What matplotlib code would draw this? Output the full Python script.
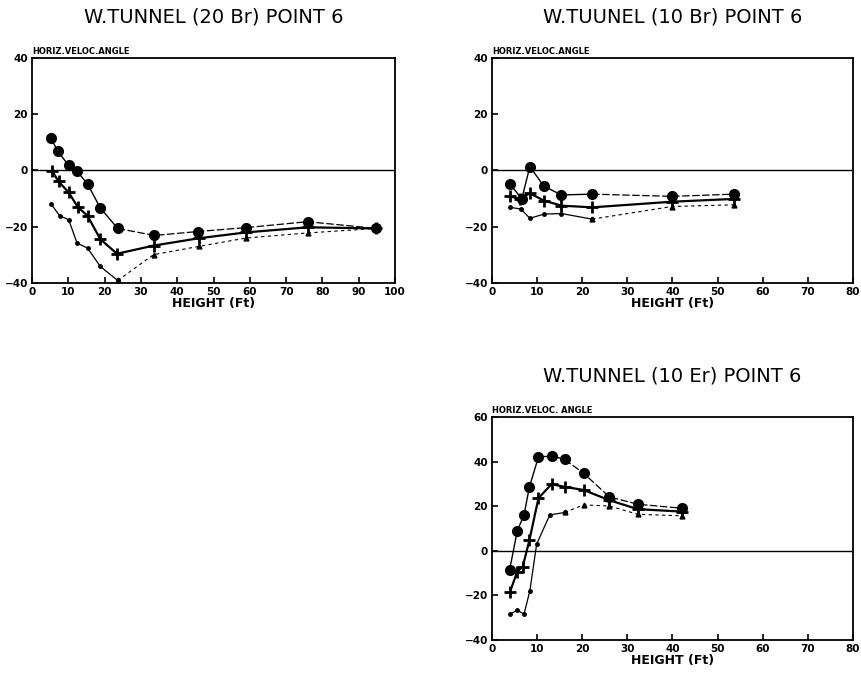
import numpy as np
import matplotlib
matplotlib.use("Agg")
import matplotlib.pyplot as plt

# W.TUNNEL (20 Br) POINT 6
h1_circ = [5.2, 7.1, 10.1, 12.4, 15.3, 18.8, 23.6, 33.7, 45.6, 59.0, 75.9, 94.8]
a1_circ = [11.6, 6.8, 1.8, -0.3, -4.8, -13.3, -20.6, -23.1, -21.7, -20.3, -18.2, -20.6]
h1_plus = [5.5, 7.3, 10.1, 12.6, 15.3, 18.8, 23.4, 33.5, 45.9, 59.0, 75.9, 94.8]
a1_plus = [-0.1, -3.9, -7.8, -13.0, -16.1, -24.4, -29.6, -26.7, -24.1, -22.0, -20.2, -20.6]
h1_dot = [5.2, 7.6, 10.1, 12.4, 15.3, 18.8, 23.6, 33.5, 45.9, 59.0, 75.9, 94.8]
a1_dot = [-11.8, -16.1, -17.5, -25.8, -27.6, -34.1, -39.1, -29.9, -27.0, -24.0, -22.2, -20.6]

# W.TUUNEL (10 Br) POINT 6
h2_circ = [4.0, 6.6, 8.4, 11.5, 15.4, 22.2, 39.9, 53.7]
a2_circ = [-4.8, -10.1, 1.4, -5.6, -8.7, -8.4, -9.2, -8.4]
h2_plus = [4.0, 6.2, 8.4, 11.5, 15.4, 22.2, 39.9, 53.7]
a2_plus = [-9.2, -10.1, -8.1, -10.7, -12.5, -13.1, -11.1, -10.1]
h2_dot = [4.0, 6.4, 8.4, 11.5, 15.4, 22.2, 39.9, 53.7]
a2_dot = [-13.1, -13.7, -17.0, -15.5, -15.3, -17.3, -12.8, -12.2]

# W.TUNNEL (10 Er) POINT 6
h3_circ = [3.9, 5.6, 7.1, 8.3, 10.3, 13.4, 16.1, 20.3, 26.0, 32.3, 42.0]
a3_circ = [-8.7, 9.0, 16.1, 28.7, 42.1, 42.5, 41.0, 34.8, 24.2, 20.9, 19.1]
h3_plus = [4.0, 5.6, 6.8, 8.3, 10.3, 13.2, 16.1, 20.3, 26.0, 32.3, 42.0]
a3_plus = [-18.4, -9.3, -7.2, 4.8, 23.6, 29.9, 28.7, 27.3, 22.7, 18.7, 17.6]
h3_dot = [4.0, 5.6, 7.1, 8.4, 9.9, 12.8, 16.1, 20.3, 26.0, 32.3, 42.0]
a3_dot = [-28.4, -26.6, -28.4, -17.9, 3.0, 16.1, 17.2, 20.6, 20.1, 16.4, 15.7]

panels = [
    ("W.TUNNEL (20 Br) POINT 6", "HORIZ.VELOC.ANGLE", 100, (-40, 40),
     h1_circ, a1_circ, h1_plus, a1_plus, h1_dot, a1_dot, 7),
    ("W.TUUNEL (10 Br) POINT 6", "HORIZ.VELOC.ANGLE", 80, (-40, 40),
     h2_circ, a2_circ, h2_plus, a2_plus, h2_dot, a2_dot, 6),
    ("W.TUNNEL (10 Er) POINT 6", "HORIZ.VELOC. ANGLE", 80, (-40, 60),
     h3_circ, a3_circ, h3_plus, a3_plus, h3_dot, a3_dot, 7),
]
rects = [
    [0.0372, 0.5832, 0.4216, 0.3314],
    [0.5714, 0.5832, 0.4193, 0.3314],
    [0.5714, 0.0574, 0.4193, 0.3284],
]

fig = plt.figure(figsize=(8.61, 6.79), dpi=100)

for rect, p in zip(rects, panels):
    title, ylab, xmax, ylim, hc, ac, hp, ap, hd, ad, brk = p
    ax = fig.add_axes(rect)
    ax.axhline(0, color="black", lw=1.0)
    # circles: solid then thin dashed in the far part
    ax.plot(hc[:brk], ac[:brk], color="black", lw=1.0)
    ax.plot(hc[brk - 1:], ac[brk - 1:], color="black", lw=0.9, ls=(0, (6, 2)))
    ax.plot(hc, ac, "o", color="black", ms=7, ls="none")
    # plus series: thick solid
    ax.plot(hp, ap, color="black", lw=1.6, marker="+", ms=8, mew=2)
    # small-dot series: thin, dotted after the minimum
    ax.plot(hd[:brk], ad[:brk], color="black", lw=0.9, marker="o", ms=2.5)
    ax.plot(hd[brk - 1:], ad[brk - 1:], color="black", lw=0.8, ls=(0, (3, 3)),
            marker="^", ms=3.5)
    ax.set_xlim(0, xmax)
    ax.set_ylim(*ylim)
    ax.set_xticks(np.arange(0, xmax + 1, 10))
    ax.set_yticks(np.arange(ylim[0], ylim[1] + 1, 20))
    ax.tick_params(direction="in", length=4, width=1.2, labelsize=7.5, pad=3)
    for lab in ax.get_xticklabels() + ax.get_yticklabels():
        lab.set_fontweight("bold")
    for s in ax.spines.values():
        s.set_linewidth(1.3)
    ax.set_xlabel("HEIGHT (Ft)", fontsize=9, fontweight="bold", labelpad=0)
    ax.text(0, 1.01, ylab, transform=ax.transAxes, ha="left", va="bottom",
            fontsize=6, fontweight="bold")
    ax.text(0.5, 1.14, title, transform=ax.transAxes, ha="center", va="bottom",
            fontsize=14)

fig.savefig("out.png", dpi=100)
